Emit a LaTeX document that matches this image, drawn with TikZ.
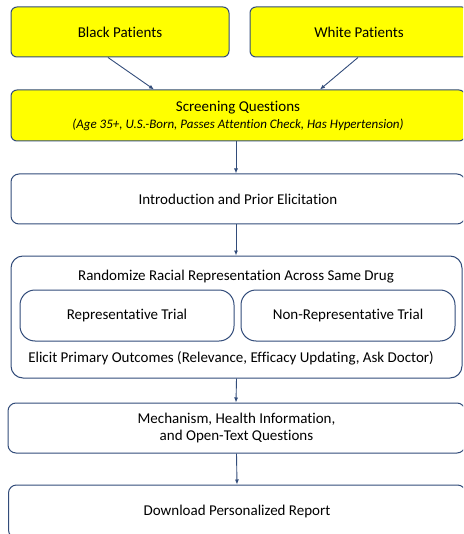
\documentclass[tikz,border=0pt]{standalone}
\usepackage{fontspec}
\setmainfont{Carlito}[Ligatures=NoCommon]
\usetikzlibrary{
  arrows.meta,
  positioning
}
\definecolor{FlowBlue}{RGB}{50,76,122}
\definecolor{PatientYellow}{RGB}{255,255,0}
\tikzset{
  patientnode/.style={draw=FlowBlue,fill=PatientYellow,line width=1pt,rounded corners=6pt,minimum height=50pt,minimum width=218pt,align=center,font=\fontsize{15}{17}\selectfont},
  stagenode/.style={draw=FlowBlue,fill=white,line width=1pt,rounded corners=8pt,minimum height=50pt,minimum width=454pt,align=center,font=\fontsize{15}{17}\selectfont},
  trialnode/.style={draw=FlowBlue,fill=white,line width=1pt,rounded corners=15pt,minimum height=51pt,minimum width=214pt,align=center,font=\fontsize{15}{17}\selectfont},
  steptext/.style={align=center,font=\fontsize{15}{17}\selectfont},
  flowarrow/.style={-{Latex[length=5pt,width=4pt]},line width=0.9pt,draw=FlowBlue}
}

\begin{document}
\begin{tikzpicture}[x=1pt,y=-1pt]
\useasboundingbox (0,0) rectangle (463,534);
\clip (0,0) rectangle (463,534);
\node[patientnode] (black) at (120,32) {Black Patients};
\node[patientnode] (white) at (359,32) {White Patients};
\node[patientnode, minimum width=454pt, minimum height=51pt] (screen) at (238,115.5) {Screening Questions\\{\fontsize{13}{15}\selectfont\itshape (Age 35+, U.S.-Born, Passes Attention Check, Has Hypertension)}};
\node[stagenode] (intro) at (238,199) {Introduction and Prior Elicitation};
\node[stagenode, minimum width=451pt, minimum height=122pt, rounded corners=12pt] (rand) at (236.5,317) {};
\node[steptext] (randtext) at (236,277) {Randomize Racial Representation Across Same Drug};
\node[trialnode] (rep) at (127,315.5) {Representative Trial};
\node[trialnode] (nonrep) at (348,315.5) {Non-Representative Trial};
\node[steptext] (elicit) at (231,358) {Elicit Primary Outcomes (Relevance, Efficacy Updating, Ask Doctor)};
\node[stagenode, minimum width=457pt] (mech) at (236.5,428) {Mechanism, Health Information,\\and Open-Text Questions};
\node[stagenode, minimum width=457pt, minimum height=53pt] (report) at (237,511.5) {Download Personalized Report};

\draw[flowarrow] ([xshift=-12]black.south) -- ([xshift=-84]screen.north);
\draw[flowarrow] ([xshift=-1]white.south) -- ([xshift=82]screen.north);
\draw[flowarrow] ([xshift=-2]screen.south) -- ([xshift=-2]intro.north);
\draw[flowarrow] ([xshift=-2]intro.south) -- ([xshift=-0.5]rand.north);
\draw[flowarrow] (rand.south) -- ([xshift=-0.5]mech.north);
\draw[flowarrow] (mech.south) -- (report.north);
\end{tikzpicture}
\end{document}
